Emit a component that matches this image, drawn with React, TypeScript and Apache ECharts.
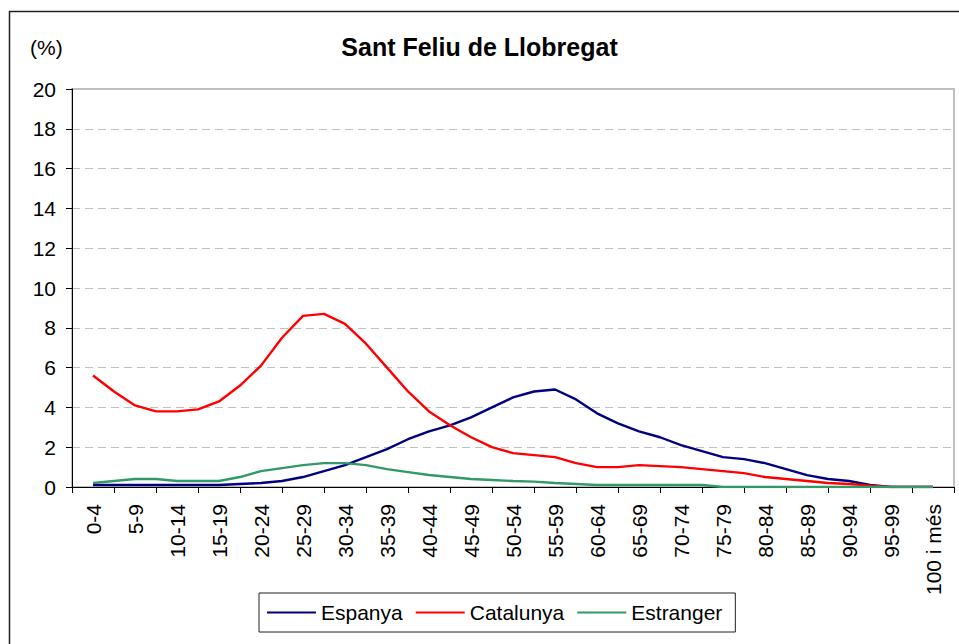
import React, { useEffect, useRef } from "react";
import * as echarts from "echarts";

const titleText = "Sant Feliu de Llobregat";
const unitLabel = "(%)";

const ageGroups = [
  "0-4", "5-9", "10-14", "15-19", "20-24", "25-29", "30-34", "35-39", "40-44", "45-49",
  "50-54", "55-59", "60-64", "65-69", "70-74", "75-79", "80-84", "85-89", "90-94", "95-99", "100 i més",
];

// values sampled at every half age group (41 points, from 0-4 to 100 i més)
const espanya = [
  0.1, 0.1, 0.1, 0.1, 0.1, 0.1, 0.1, 0.15, 0.2, 0.3,
  0.5, 0.8, 1.1, 1.5, 1.9, 2.4, 2.8, 3.1, 3.5, 4.0,
  4.5, 4.8, 4.9, 4.4, 3.7, 3.2, 2.8, 2.5, 2.1, 1.8,
  1.5, 1.4, 1.2, 0.9, 0.6, 0.4, 0.3, 0.1, 0.0, 0.0, 0.0,
];
const catalunya = [
  5.6, 4.8, 4.1, 3.8, 3.8, 3.9, 4.3, 5.1, 6.1, 7.5,
  8.6, 8.7, 8.2, 7.2, 6.0, 4.8, 3.8, 3.1, 2.5, 2.0,
  1.7, 1.6, 1.5, 1.2, 1.0, 1.0, 1.1, 1.05, 1.0, 0.9,
  0.8, 0.7, 0.5, 0.4, 0.3, 0.2, 0.15, 0.07, 0.0, 0.0, 0.0,
];
const estranger = [
  0.2, 0.3, 0.4, 0.4, 0.3, 0.3, 0.3, 0.5, 0.8, 0.95,
  1.1, 1.2, 1.2, 1.1, 0.9, 0.75, 0.6, 0.5, 0.4, 0.35,
  0.3, 0.27, 0.2, 0.15, 0.1, 0.1, 0.1, 0.1, 0.1, 0.1,
  0.0, 0.0, 0.0, 0.0, 0.0, 0.0, 0.0, 0.0, 0.0, 0.0, 0.0,
];

const seriesNames = ["Espanya", "Catalunya", "Estranger"];
const seriesColors = ["#000080", "#ff0000", "#339966"];

const FONT = "'Liberation Sans', Arial, sans-serif";

export default function App() {
  const ref = useRef<HTMLDivElement>(null);

  useEffect(() => {
    if (!ref.current) return;
    const chart = echarts.init(ref.current, null, { renderer: "svg" });
    const toPoints = (arr: number[]) => arr.map((v, i) => [i * 0.5, v]);
    const allSeries = [espanya, catalunya, estranger];

    chart.setOption({
      animation: false,
      backgroundColor: "#ffffff",
      textStyle: { fontFamily: FONT },
      title: {
        text: titleText,
        left: "center",
        top: 29,
        textStyle: { fontFamily: FONT, fontSize: 25, fontWeight: "bold", color: "#000" },
      },
      graphic: [
        {
          type: "rect",
          shape: { x: 9.5, y: 11.5, width: 1000, height: 700 },
          style: { fill: "none", stroke: "#222", lineWidth: 1.5 },
          silent: true,
        },
        {
          type: "text",
          left: 30,
          top: 37,
          style: { text: unitLabel, fontFamily: FONT, fontSize: 21, fill: "#000" },
        },
      ],
      legend: {
        data: seriesNames,
        left: 259,
        top: 593,
        orient: "horizontal",
        icon: "rect",
        itemWidth: 49,
        itemHeight: 2,
        itemGap: 13,
        padding: [9, 13, 9, 8],
        borderColor: "#222",
        borderWidth: 1,
        textStyle: { fontFamily: FONT, fontSize: 21, color: "#000" },
      },
      grid: {
        left: 72,
        top: 89,
        right: 5,
        bottom: 157,
        show: true,
        borderColor: "#c0c0c0",
        borderWidth: 2,
        backgroundColor: "transparent",
      },
      xAxis: [
        {
          type: "category",
          data: ageGroups,
          boundaryGap: true,
          axisLine: { onZero: false, lineStyle: { color: "#000", width: 1 } },
          axisTick: { show: true, length: 6, lineStyle: { color: "#000" } },
          axisLabel: {
            interval: 0,
            rotate: 90,
            margin: 17,
            fontFamily: FONT,
            fontSize: 21,
            color: "#000",
          },
          splitLine: { show: false },
        },
        {
          type: "value",
          min: -0.5,
          max: 20.5,
          show: false,
          splitLine: { show: false },
        },
      ],
      yAxis: {
        type: "value",
        min: 0,
        max: 20,
        interval: 2,
        axisLine: { show: true, onZero: false, lineStyle: { color: "#000", width: 1 } },
        axisTick: { show: true, length: 6, lineStyle: { color: "#000" } },
        axisLabel: { margin: 16, fontFamily: FONT, fontSize: 21, color: "#000" },
        splitLine: { show: true, lineStyle: { color: "#c0c0c0", type: [8, 5], width: 1 } },
      },
      series: allSeries.map((arr, k) => ({
        name: seriesNames[k],
        type: "line",
        xAxisIndex: 1,
        data: toPoints(arr),
        symbol: "none",
        smooth: false,
        lineStyle: { color: seriesColors[k], width: 2.4 },
        itemStyle: { color: seriesColors[k] },
      })),
    });

    return () => chart.dispose();
  }, []);

  return (
    <div
      ref={ref}
      style={{ position: "absolute", left: 0, top: 0, width: 959, height: 644, background: "#fff" }}
    />
  );
}
